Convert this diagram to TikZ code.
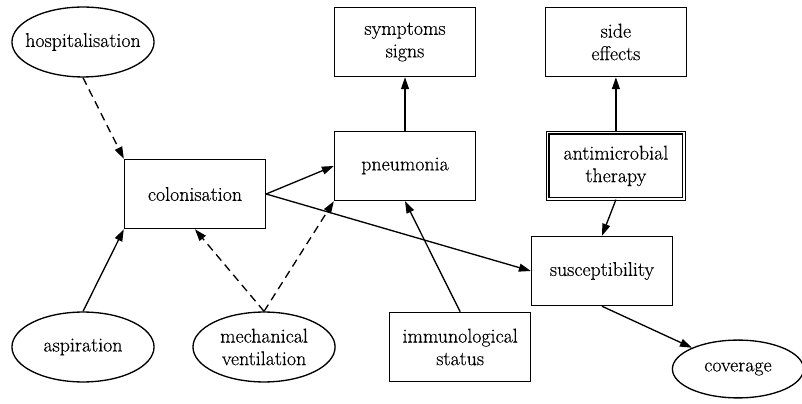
\documentclass[tikz,border=0pt]{standalone}
\usepackage{fontspec}
\setmainfont{Latin Modern Roman}[FakeBold=0.4]
\usepackage{tikz}
\usetikzlibrary{arrows.meta,shapes,positioning}
\usepackage{xcolor}
\tikzstyle{arrow} = [line width=1pt,-{Triangle[length=9pt,width=6pt]}]
\tikzstyle{dasharrow} = [arrow, dash pattern=on 6pt off 4pt]
\tikzstyle{factor} = [rectangle, minimum width=3.73cm, minimum height=1.83cm, text centered, align=center, draw, line width=1pt]
\tikzstyle{cause} = [ellipse, minimum width=3.76cm, minimum height=1.85cm, inner xsep=-10pt, text centered, align=center, draw, line width=1pt]
\tikzstyle{decision} = [factor, double, double distance=0.9pt, line width=1pt, minimum width=3.6cm, minimum height=1.75cm]

\begin{document}
\begin{tikzpicture}[font=\fontsize{15}{17}\selectfont]
\useasboundingbox (-2.196,1.111) rectangle (19.024,-9.552);
% Top row
\node (hosp) [cause] {hospitalisation};
\node (symptoms) [factor, right of=hosp, node distance=8.52cm] {symptoms\\signs};
\node (side) [factor, right of=symptoms, node distance=5.58cm] {side\\effects};

% Middle row
\node (colon) [factor] at (2.963,-4.022) {colonisation};
\node (pneu) [factor, below of=symptoms, node distance=3.28cm] {pneumonia};
\node (therapy) [decision, below of=side, node distance=3.28cm] {antimicrobial\\therapy};
\node (suscept) [factor] at (13.732,-6.059) {susceptibility};

% Bottom row
\node (aspir) [cause, below of=hosp, node distance=8.07cm] {aspiration};
\node (ventil) [cause, right of=aspir, node distance=4.79cm] {mechanical\\ventilation};
\node (immuno) [factor, right of=ventil, node distance=5.19cm] {immunological\\status};
\node (cover) [cause, minimum width=3.47cm, minimum height=1.53cm] at (17.33,-8.652) {coverage};

% Connections
\draw[dasharrow] (hosp.south) -- (colon.north west);
\draw[arrow] (aspir.north) -- (colon.south west);
\draw[dasharrow] (ventil.north) -- (colon.south);
\draw[dasharrow] (ventil.north) -- (pneu.south west);
\draw[arrow] (colon.east) -- (pneu.west);
\draw[arrow] (colon.east) -- (suscept.west);
\draw[arrow] (pneu) -- (symptoms);
\draw[arrow] (immuno.north) -- (pneu.south);
\draw[arrow] (therapy) -- (side);
\draw[arrow] (therapy.south) -- (suscept.north);
\draw[arrow] (suscept.south) -- (cover);
\end{tikzpicture}
\end{document}
